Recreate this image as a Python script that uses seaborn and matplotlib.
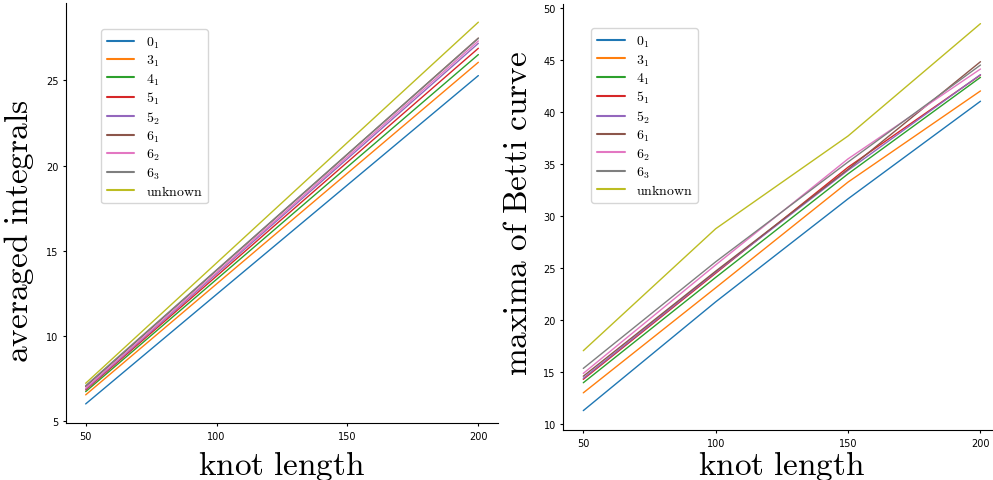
import numpy as np
import pandas as pd
import matplotlib as mpl
import matplotlib.pyplot as plt
import seaborn as sns

# knot lengths
lengths = [50, 100, 150, 200]

# knot types (legend order)
knots = ['$0_1$', '$3_1$', '$4_1$', '$5_1$', '$5_2$', '$6_1$', '$6_2$', '$6_3$', r'$\mathrm{unknown}$']

# averaged integrals, one list per knot type
integrals = {
    '$0_1$': [6.03, 12.45, 18.86, 25.27],
    '$3_1$': [6.56, 13.06, 19.55, 26.05],
    '$4_1$': [6.75, 13.33, 19.92, 26.50],
    '$5_1$': [6.85, 13.52, 20.20, 26.87],
    '$5_2$': [6.90, 13.65, 20.40, 27.16],
    '$6_1$': [7.05, 13.86, 20.66, 27.47],
    '$6_2$': [6.95, 13.73, 20.52, 27.30],
    '$6_3$': [7.10, 13.88, 20.67, 27.45],
    r'$\mathrm{unknown}$': [7.24, 14.29, 21.35, 28.40],
}

# maxima of Betti curve
maxima = {
    '$0_1$': [11.29, 21.75, 31.66, 41.04],
    '$3_1$': [13.00, 23.10, 33.27, 42.03],
    '$4_1$': [13.97, 24.10, 34.06, 43.34],
    '$5_1$': [14.30, 24.50, 34.70, 43.56],
    '$5_2$': [14.40, 24.60, 34.40, 43.60],
    '$6_1$': [14.60, 24.70, 34.50, 44.84],
    '$6_2$': [14.87, 25.30, 35.50, 44.14],
    '$6_3$': [15.35, 25.60, 35.20, 44.52],
    r'$\mathrm{unknown}$': [17.05, 28.78, 37.70, 48.50],
}


def to_long(d):
    rows = []
    for k in knots:
        for x, y in zip(lengths, d[k]):
            rows.append({'knot length': x, 'value': y, 'knot': k})
    return pd.DataFrame(rows)


sns.set_style('ticks', {'axes.edgecolor': 'black', 'text.color': 'black',
                        'xtick.color': 'black', 'ytick.color': 'black',
                        'axes.labelcolor': 'black'})
mpl.rcParams['mathtext.fontset'] = 'cm'

fig = plt.figure(figsize=(9.93, 4.81), dpi=100)
ax1 = fig.add_axes([0.0665, 0.1185, 0.435, 0.873])
ax2 = fig.add_axes([0.5674, 0.104, 0.44, 0.885])

palette = sns.color_palette('tab10', len(knots))

for ax, d, ylab, anchor in [
    (ax1, integrals, r'$\mathrm{averaged\ integrals}$', (0.065, 0.955)),
    (ax2, maxima, r'$\mathrm{maxima\ of\ Betti\ curve}$', (0.048, 0.96)),
]:
    sns.lineplot(data=to_long(d), x='knot length', y='value', hue='knot',
                 hue_order=knots, palette=palette, linewidth=1, ax=ax)
    ax.set_xticks(lengths)
    ax.tick_params(labelsize=7, length=2)
    ax.set_ylabel(ylab, fontsize=24)
    leg = ax.legend(loc='upper left', bbox_to_anchor=anchor, fontsize=10,
                    labelspacing=0.22)
    for line in leg.get_lines():
        line.set_linewidth(1.5)
    sns.despine(ax=ax)

ax1.set_xlabel(r'$\mathrm{knot\ length}$', fontsize=24, labelpad=5)
ax2.set_xlabel(r'$\mathrm{knot\ length}$', fontsize=24, labelpad=0)
ax1.yaxis.set_label_coords(-0.07, 0.46)
ax2.yaxis.set_label_coords(-0.068, 0.51)

ax1.set_yticks([5, 10, 15, 20, 25])
ax2.set_yticks([10, 15, 20, 25, 30, 35, 40, 45, 50])

fig.savefig('out.png', dpi=100)
